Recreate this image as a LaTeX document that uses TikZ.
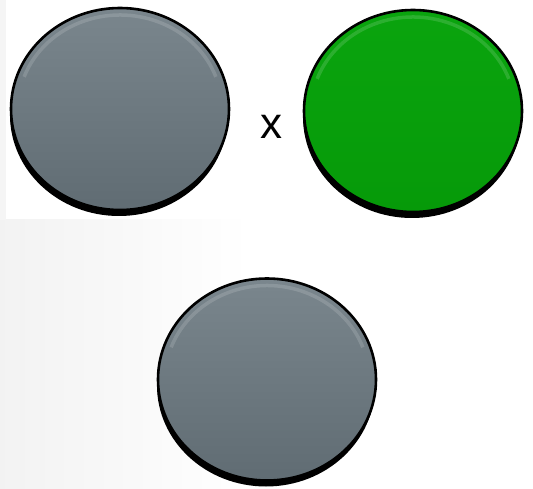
\documentclass[tikz,border=0pt]{standalone}
\usepackage{fontspec}
\setmainfont{Liberation Sans}
\usetikzlibrary{shapes.geometric,shadows}
\definecolor{gtop}{HTML}{7A868D}
\definecolor{gmid}{HTML}{6D7980}
\definecolor{gbot}{HTML}{606C73}
\definecolor{ntop}{HTML}{0AA40E}
\definecolor{nmid}{HTML}{06A00A}
\definecolor{nbot}{HTML}{069A09}
\tikzset{
  disc/.style={ellipse, inner sep=0pt, minimum width=218pt, minimum height=202pt,
    draw=black, line width=2.6pt,
    general shadow={fill=black, shadow yshift=-6pt, shadow xshift=-1pt}},
  graydisc/.style={disc, top color=gtop, middle color=gmid, bottom color=gbot},
  greendisc/.style={disc, top color=ntop, middle color=nmid, bottom color=nbot},
  rim/.style={line width=3.5pt, white, opacity=0.14},
  label/.style={font=\fontsize{44}{44}\selectfont, inner sep=0pt}
}
\begin{document}
\begin{tikzpicture}[x=1pt,y=1pt]
\useasboundingbox (0,0) rectangle (533,488);
\fill[white] (0,0) rectangle (533,488);
\shade[left color=black!5, right color=white] (0,0) rectangle (250,268);
\fill[black!4] (0,268) rectangle (6,488);
\node[graydisc] (left) at (120,379) {};
\node[greendisc] (right) at (413,377) {};
\node[graydisc] (bottom) at (267,108.5) {};
\foreach \n in {left,right,bottom}{
  \draw[rim] (\n.center) ++(20:102 and 94) arc[start angle=20, end angle=160, x radius=102, y radius=94];
}
\node[label] (times) at (271,361) {x};
\end{tikzpicture}
\end{document}
